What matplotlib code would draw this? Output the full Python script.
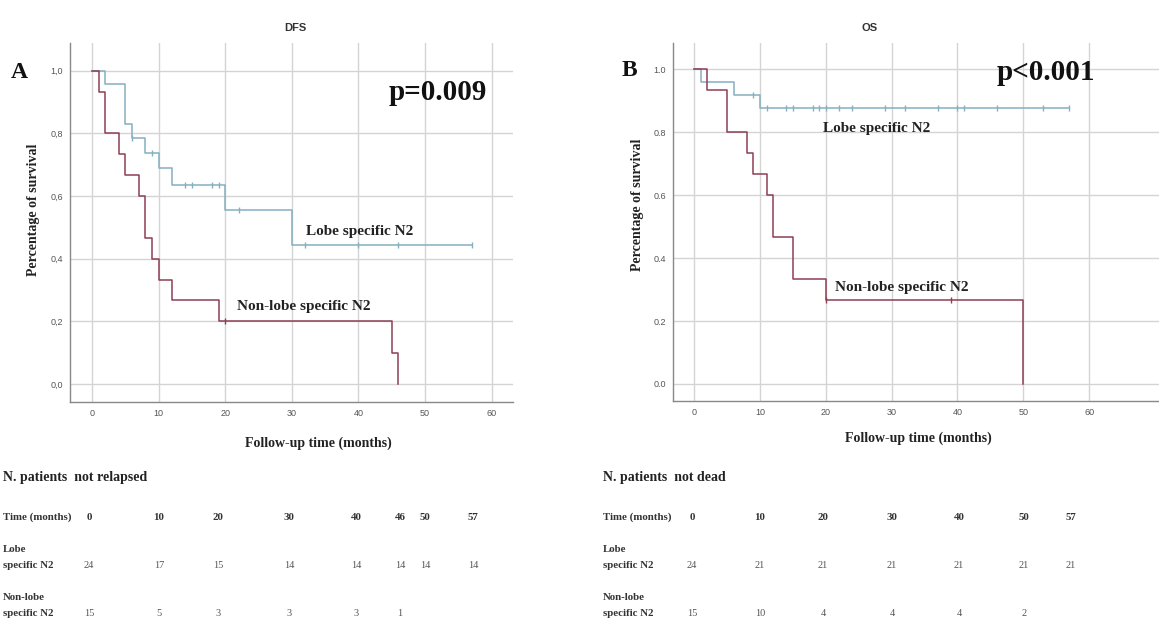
import numpy as np
import matplotlib
matplotlib.use("Agg")
import matplotlib.pyplot as plt

# ---------------- data ----------------
# DFS (panel A)
dfs_lobe_t = [0, 2, 5, 6, 8, 10, 12, 20, 30, 57]
dfs_lobe_s = [1.0, 0.958, 0.830, 0.784, 0.737, 0.689, 0.635, 0.555, 0.444, 0.444]
dfs_lobe_cens = [6, 9, 14, 15, 18, 19, 22, 32, 40, 46, 57]

dfs_non_t = [0, 1, 2, 4, 5, 7, 8, 9, 10, 12, 19, 45, 46]
dfs_non_s = [1.0, 0.933, 0.800, 0.733, 0.667, 0.600, 0.467, 0.400, 0.333, 0.267, 0.200, 0.100, 0.0]
dfs_non_cens = [20]

# OS (panel B)
os_lobe_t = [0, 1, 6, 10, 57]
os_lobe_s = [1.0, 0.958, 0.917, 0.875, 0.875]
os_lobe_cens = [9, 11, 14, 15, 18, 19, 20, 22, 24, 29, 32, 37, 40, 41, 46, 53, 57]

os_non_t = [0, 2, 5, 8, 9, 11, 12, 15, 20, 50]
os_non_s = [1.0, 0.933, 0.800, 0.733, 0.667, 0.600, 0.467, 0.333, 0.267, 0.0]
os_non_cens = [20, 39]

# number-at-risk tables
dfs_times = ["0", "10", "20", "30", "40", "46", "50", "57"]
dfs_lobe_n = ["24", "17", "15", "14", "14", "14", "14", "14"]
dfs_non_n = ["15", "5", "3", "3", "3", "1"]

os_times = ["0", "10", "20", "30", "40", "50", "57"]
os_lobe_n = ["24", "21", "21", "21", "21", "21", "21"]
os_non_n = ["15", "10", "4", "4", "4", "2"]

yticks = [0.0, 0.2, 0.4, 0.6, 0.8, 1.0]
xticks = [0, 10, 20, 30, 40, 50, 60]

# ---------------- style ----------------
W, H = 1159, 623
C_LOBE = "#86afc0"
C_NON = "#8e3f55"
SERIF = "Liberation Serif"
SANS = "Liberation Sans"

fig = plt.figure(figsize=(W / 100, H / 100), dpi=100)
fig.patch.set_facecolor("white")


def px(x, y):
    return x / W, 1 - y / H


def step_val(t, s, x):
    i = np.searchsorted(np.asarray(t), x, side="right") - 1
    return np.asarray(s)[i]


def panel(rect, xlim, ylim, comma, curves, title, title_xy, letter, letter_xy,
          ptxt, pxy, lobe_xy, non_xy, ylab_xy, xlab_xy):
    ax = fig.add_axes(rect)
    ax.set_xlim(*xlim)
    ax.set_ylim(*ylim)
    for t, s, cens, c in curves:
        ax.step(t, s, where="post", color=c, lw=1.1)
        cy = [step_val(t, s, x) for x in cens]
        ax.plot(cens, cy, ls="none", marker="|", ms=4, mew=1.0, color=c)
    ax.set_xticks(xticks)
    ax.set_yticks(yticks)
    if comma:
        ax.set_yticklabels([f"{v:.1f}".replace(".", ",") for v in yticks])
    else:
        ax.set_yticklabels([f"{v:.1f}" for v in yticks])
    ax.tick_params(length=0, labelsize=6.5, colors="#555555", pad=5)
    for lab in ax.get_xticklabels() + ax.get_yticklabels():
        lab.set_family(SANS)
    ax.grid(True, color="#d4d4d4", lw=1.0)
    ax.set_axisbelow(True)
    for sp in ["top", "right"]:
        ax.spines[sp].set_visible(False)
    for sp in ["left", "bottom"]:
        ax.spines[sp].set_color("#888888")
        ax.spines[sp].set_linewidth(1.0)
    ax.text(pxy[0], pxy[1], ptxt, fontsize=21, fontweight="bold", family=SERIF,
            ha="left", va="center", color="#111111")
    ax.text(lobe_xy[0], lobe_xy[1], "Lobe specific N2", fontsize=11, fontweight="bold",
            family=SERIF, ha="left", va="center", color="#222222")
    ax.text(non_xy[0], non_xy[1], "Non-lobe specific N2", fontsize=11, fontweight="bold",
            family=SERIF, ha="left", va="center", color="#222222")
    fig.text(*px(*title_xy), title, fontsize=8, fontweight="bold", family=SANS,
             ha="center", va="center", color="#333333")
    fig.text(*px(*letter_xy), letter, fontsize=17, fontweight="bold", family=SERIF,
             ha="center", va="center", color="#111111")
    fig.text(*px(*ylab_xy), "Percentage of survival", fontsize=10, fontweight="bold",
             family=SERIF, rotation=90, ha="center", va="center", color="#222222")
    fig.text(*px(*xlab_xy), "Follow-up time (months)", fontsize=10, fontweight="bold",
             family=SERIF, ha="center", va="center", color="#222222")
    return ax


# Panel A
panel(rect=[70 / W, 1 - 402 / H, (513 - 70) / W, (402 - 43) / H],
      xlim=(-3.3, 63.2), ylim=(-0.0575, 1.088), comma=True,
      curves=[(dfs_lobe_t, dfs_lobe_s, dfs_lobe_cens, C_LOBE),
              (dfs_non_t, dfs_non_s, dfs_non_cens, C_NON)],
      title="DFS", title_xy=(295, 28), letter="A", letter_xy=(19, 72),
      ptxt="p=0.009", pxy=(44.6, 0.93), lobe_xy=(32.2, 0.485), non_xy=(21.7, 0.246),
      ylab_xy=(34, 210), xlab_xy=(318, 443))

# Panel B
panel(rect=[673 / W, 1 - 401 / H, (W - 673) / W, (401 - 43) / H],
      xlim=(-3.2, 70.6), ylim=(-0.054, 1.083), comma=False,
      curves=[(os_lobe_t, os_lobe_s, os_lobe_cens, C_LOBE),
              (os_non_t, os_non_s, os_non_cens, C_NON)],
      title="OS", title_xy=(870, 28), letter="B", letter_xy=(629, 70),
      ptxt="p<0.001", pxy=(46.0, 0.99), lobe_xy=(19.6, 0.813), non_xy=(21.4, 0.305),
      ylab_xy=(637, 205), xlab_xy=(918, 438))


# ---------------- at-risk tables ----------------
def table(x0, header, times, tx, lobe, non):
    fig.text(*px(x0, 477), header, fontsize=10, fontweight="bold", family=SERIF,
             ha="left", va="center", color="#222222")
    kw = dict(fontsize=7.8, fontweight="bold", family=SERIF, ha="left",
              va="center", color="#333333")
    fig.text(*px(x0, 517), "Time (months)", **kw)
    fig.text(*px(x0, 549), "Lobe", **kw)
    fig.text(*px(x0, 565), "specific N2", **kw)
    fig.text(*px(x0, 597), "Non-lobe", **kw)
    fig.text(*px(x0, 614), "specific N2", **kw)
    for i, t in enumerate(times):
        fig.text(*px(tx[i], 517), t, fontsize=7.8, fontweight="bold", family=SERIF,
                 ha="center", va="center", color="#333333")
    for i, n in enumerate(lobe):
        fig.text(*px(tx[i], 565), n, fontsize=7.5, family=SERIF,
                 ha="center", va="center", color="#555555")
    for i, n in enumerate(non):
        fig.text(*px(tx[i], 614), n, fontsize=7.5, family=SERIF,
                 ha="center", va="center", color="#555555")


table(3, "N. patients  not relapsed", dfs_times,
      [89, 159, 218, 289, 356, 400, 425, 473], dfs_lobe_n, dfs_non_n)
table(603, "N. patients  not dead", os_times,
      [692, 760, 823, 892, 959, 1024, 1071], os_lobe_n, os_non_n)

fig.savefig("out.png", dpi=100, facecolor="white")
